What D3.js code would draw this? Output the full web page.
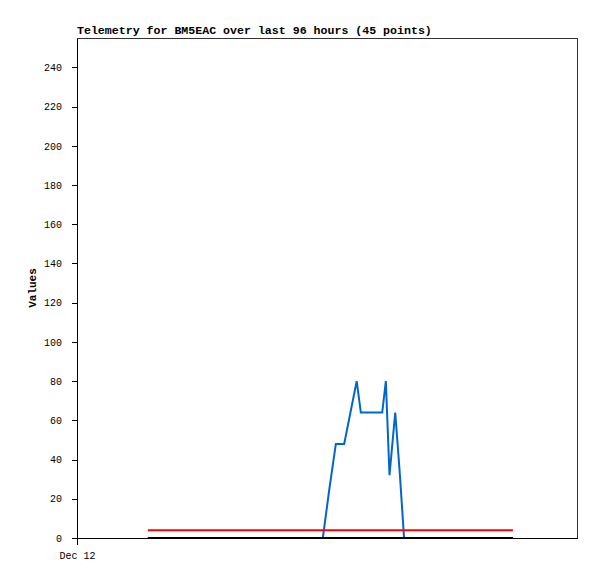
<!DOCTYPE html>
<html><head><meta charset="utf-8">
<script src="https://cdn.jsdelivr.net/npm/d3@7"></script>
<style>body{margin:0;background:#fff}svg{display:block}</style>
</head><body>
<script>
const titleText = "Telemetry for BM5EAC over last 96 hours (45 points)";
const yLabel = "Values";
const hours = [13.6,15.7,17.8,19.9,22.0,24.1,26.2,28.3,30.4,32.5,34.6,36.7,38.8,40.9,43.0,45.1,47.2,
  48.4,49.7,51.3,52.5,53.7,54.5,56.5,58.6,59.3,60.0,61.1,62.0,62.8,
  64.2,65.6,67.0,68.4,69.8,71.1,72.5,73.9,75.3,76.7,78.1,79.5,80.9,82.3,83.7];
const blueVals = [0,0,0,0,0,0,0,0,0,0,0,0,0,0,0,0,0,
  24,48,48,64,80,64,64,64,80,32,64,32,0,
  0,0,0,0,0,0,0,0,0,0,0,0,0,0,0];
const redVals = hours.map(()=>4);
const blackVals = hours.map(()=>0);
const yTicks = [0,20,40,60,80,100,120,140,160,180,200,220,240];
const xTickHours = [0];
const xTickLabels = ["Dec 12"];
const startDate = new Date(2023, 11, 12, 0, 0, 0);
const spanHours = 96;
const yMax = 255;

const W=597,H=579, L=77,R=577,T=38,B=538;
const svg=d3.select("body").append("svg").attr("width",W).attr("height",H);
const toDate=h=>new Date(startDate.getTime()+h*3600e3);
const x=d3.scaleTime().domain([toDate(0),toDate(spanHours)]).range([L,R]);
const y=d3.scaleLinear().domain([0,yMax]).range([B,T]);
const mono="'Liberation Mono','DejaVu Sans Mono',monospace";

// frame
svg.append("rect").attr("x",L).attr("y",T).attr("width",R-L).attr("height",B-T)
  .attr("fill","none").attr("stroke","#333").attr("stroke-width",1).attr("shape-rendering","crispEdges");

const yAxis=svg.append("g").attr("transform",`translate(${L},0)`)
  .call(d3.axisLeft(y).tickValues(yTicks).tickSize(5).tickPadding(10).tickSizeOuter(0));
yAxis.select(".domain").attr("stroke","#000").attr("shape-rendering","crispEdges");
yAxis.selectAll("line").attr("stroke","#000").attr("shape-rendering","crispEdges");
yAxis.selectAll("text").attr("font-family",mono).attr("font-size","10px").attr("fill","#000");

const xAxis=svg.append("g").attr("transform",`translate(0,${B})`)
  .call(d3.axisBottom(x).tickValues(xTickHours.map(toDate)).tickFormat((d,i)=>xTickLabels[i]).tickSize(7).tickPadding(7).tickSizeOuter(0));
xAxis.select(".domain").attr("stroke","#000").attr("shape-rendering","crispEdges");
xAxis.selectAll("line").attr("stroke","#000").attr("shape-rendering","crispEdges");
xAxis.selectAll("text").attr("font-family",mono).attr("font-size","10px").attr("fill","#000");

const series=[{v:blueVals,c:"#0066cc"},{v:redVals,c:"#ff0000"},{v:blackVals,c:"#000000"}];
const line=d3.line().x((d,i)=>x(toDate(hours[i]))).y(d=>y(d));
series.forEach(s=>{
  svg.append("path").datum(s.v).attr("d",line).attr("fill","none")
    .attr("stroke",s.c).attr("stroke-width",2).attr("stroke-linejoin","miter");
});

svg.append("text").attr("x",L).attr("y",T-4).text(titleText)
  .attr("font-family",mono).attr("font-weight","bold").attr("font-size","11.6px").attr("fill","#000");
svg.append("text").attr("transform",`translate(36,${(T+B)/2}) rotate(-90)`).attr("text-anchor","middle")
  .text(yLabel).attr("font-family",mono).attr("font-weight","bold").attr("font-size","11px").attr("fill","#000");
</script>
</body></html>
